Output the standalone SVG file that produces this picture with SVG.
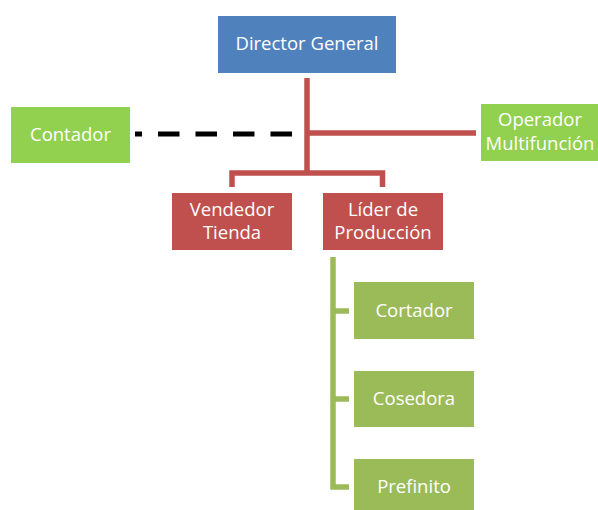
<svg xmlns="http://www.w3.org/2000/svg" width="598" height="510" viewBox="0 0 598 510">
  <style>
    .lbl { font-family: "Open Sans", "Noto Sans", "Liberation Sans", sans-serif; font-size: 18.5px; fill: #ffffff; text-anchor: middle; }
    .blue { fill: #4F81BD; }
    .red { fill: #C0504D; }
    .lime { fill: #92D050; }
    .olive { fill: #9BBB59; }
    .redline { stroke: #C0504D; stroke-width: 5.5; fill: none; }
    .greenline { stroke: #9BBB59; stroke-width: 5.5; fill: none; }
    .dash { stroke: #000000; stroke-width: 5; stroke-dasharray: 21.5 16; fill: none; }
  </style>
  <rect width="598" height="510" fill="#ffffff"/>

  <g id="connectors">
    <!-- main trunk from the director down to the second level -->
    <path class="redline" d="M307 78 V173"/>
    <!-- branch to the multi-function operator -->
    <path class="redline" d="M307 133 H476"/>
    <!-- bar over the second level -->
    <path class="redline" d="M232 187 V173 H382.5 V187"/>
    <!-- advisory link to the accountant -->
    <path class="dash" d="M292 134 H135"/>
    <!-- production team bracket -->
    <path class="greenline" d="M333 257 V487 H349 M333 311 H349 M333 399 H349"/>
  </g>

  <g id="director-general">
    <rect class="blue" x="218" y="16" width="178" height="57"/>
    <text class="lbl" x="307" y="50">Director General</text>
  </g>

  <g id="contador">
    <rect class="lime" x="11" y="107" width="119" height="56"/>
    <text class="lbl" x="70.5" y="141">Contador</text>
  </g>

  <g id="operador-multifuncion">
    <rect class="lime" x="481" y="104" width="117" height="57"/>
    <text class="lbl" x="540" y="126">Operador</text>
    <text class="lbl" x="540" y="150">Multifunción</text>
  </g>

  <g id="vendedor-tienda">
    <rect class="red" x="172" y="193" width="120" height="57"/>
    <text class="lbl" x="232" y="216">Vendedor</text>
    <text class="lbl" x="232" y="239">Tienda</text>
  </g>

  <g id="lider-produccion">
    <rect class="red" x="323" y="193" width="120" height="57"/>
    <text class="lbl" x="383" y="216">Líder de</text>
    <text class="lbl" x="383" y="239">Producción</text>
  </g>

  <g id="cortador">
    <rect class="olive" x="354" y="282" width="120" height="57"/>
    <text class="lbl" x="414" y="317">Cortador</text>
  </g>

  <g id="cosedora">
    <rect class="olive" x="354" y="371" width="120" height="56"/>
    <text class="lbl" x="414" y="405">Cosedora</text>
  </g>

  <g id="prefinito">
    <rect class="olive" x="354" y="459" width="120" height="57"/>
    <text class="lbl" x="414" y="493">Prefinito</text>
  </g>
</svg>
